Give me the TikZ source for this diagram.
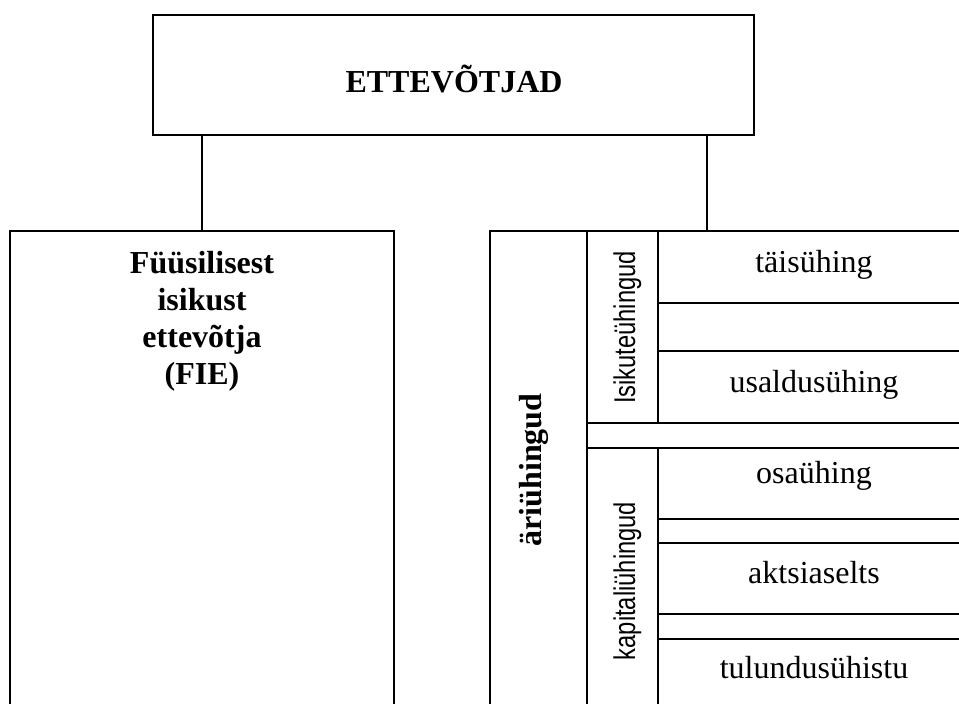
\documentclass[tikz,border=0pt]{standalone}
\usepackage{fontspec}
\setmainfont{Liberation Serif}
\newfontfamily\condsans[FakeStretch=0.79]{Liberation Sans}
\begin{document}
\begin{tikzpicture}[x=1pt,y=-1pt,line width=1.6pt,
  box/.style={draw,rectangle,inner sep=0pt,outer sep=0pt},
  boldtxt/.style={font=\fontsize{32}{37}\selectfont\bfseries,inner sep=0pt},
  sertxt/.style={font=\fontsize{32}{37}\selectfont,inner sep=0pt,anchor=base},
  sanstxt/.style={font=\condsans\fontsize{30}{36}\selectfont,inner sep=0pt,rotate=90,anchor=base},
  rule/.style={line width=1.6pt}]
\useasboundingbox (0,0) rectangle (959,704);
\clip (0,0) rectangle (959,704);
% main boxes
\node[box,minimum width=601pt,minimum height=120pt] (top) at (453.5,75) {};
\node[box,minimum width=384pt,minimum height=509pt] (fie) at (202,485.5) {};
\node[box,minimum width=490pt,minimum height=509pt] (ari) at (735,485.5) {};
\coordinate (rc) at (707,0);
% connectors
\draw[rule] (top.south -| fie.north) -- (fie.north);
\draw[rule] (top.south -| rc) -- (ari.north -| rc);
% inner grid of the right box
\draw[rule] (587,231) -- (587,740);
\draw[rule] (658,231) -- (658,422.7);
\draw[rule] (658,447.7) -- (658,740);
\draw[rule] (658,302.7) -- (980,302.7);
\draw[rule] (658,351) -- (980,351);
\draw[rule] (587,422.7) -- (980,422.7);
\draw[rule] (587,447.7) -- (980,447.7);
\draw[rule] (658,519) -- (980,519);
\draw[rule] (658,543) -- (980,543);
\draw[rule] (658,614) -- (980,614);
\draw[rule] (658,639) -- (980,639);
% texts
\node[boldtxt,anchor=base] (t1) at (454,92) {ETTEVÕTJAD};
\node[boldtxt,align=center,anchor=north] (t2) at (202,250) {Füüsilisest\\isikust\\ettevõtja\\(FIE)};
\node[boldtxt,rotate=90,anchor=base] (t5) at (541,470) {äriühingud};
\node[sanstxt] (t3) at (635,327.5) {Isikuteühingud};
\node[sanstxt] (t4) at (635,581) {kapitaliühingud};
\node[sertxt] (c1) at (814,272) {täisühing};
\node[sertxt] (c2) at (814,392) {usaldusühing};
\node[sertxt] (c3) at (814,483) {osaühing};
\node[sertxt] (c4) at (814,583) {aktsiaselts};
\node[sertxt] (c5) at (814,678) {tulundusühistu};
\end{tikzpicture}
\end{document}
